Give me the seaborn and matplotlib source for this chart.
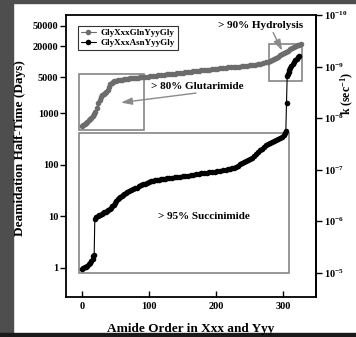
import numpy as np
import pandas as pd
import matplotlib
matplotlib.use("Agg")
import matplotlib.pyplot as plt
import seaborn as sns
from matplotlib.patches import Rectangle
from matplotlib.ticker import FixedLocator, NullLocator, FuncFormatter

# Deamidation half-times (days) of the pentapeptides, sorted by rate
gln_order = [0, 2, 4, 6, 8, 10, 12, 14, 16, 18, 20, 22, 24, 26, 28, 30, 32, 34, 36, 38,
             40, 42, 44, 46, 48, 50, 53, 56, 59, 62, 65, 68, 71, 74, 77, 80, 84, 87, 90,
             94, 98, 102, 106, 110, 114, 118, 122, 126, 130, 134, 138, 142, 146, 150, 154,
             158, 162, 166, 170, 174, 178, 182, 186, 190, 194, 198, 202, 206, 210, 214,
             218, 222, 226, 230, 234, 238, 242, 246, 250, 254, 258, 262, 266, 270, 274,
             277, 280, 283, 286, 289, 292, 295, 298, 301, 304, 307, 310, 313, 316, 319,
             322, 324, 326]
gln_days = [570, 590, 610, 640, 680, 720, 760, 810, 880, 950, 1050, 1250, 1550, 1800,
            2050, 2200, 2320, 2450, 2600, 2800, 3200, 3600, 3900, 4050, 4150, 4250, 4330,
            4400, 4470, 4530, 4600, 4650, 4700, 4750, 4800, 4850, 4900, 4950, 5000, 5060,
            5120, 5180, 5240, 5300, 5380, 5460, 5540, 5620, 5700, 5780, 5860, 5940, 6020,
            6100, 6180, 6260, 6350, 6450, 6550, 6650, 6750, 6850, 6920, 7000, 7100, 7200,
            7300, 7400, 7500, 7600, 7700, 7780, 7850, 7950, 8030, 8100, 8200, 8300, 8400,
            8550, 8700, 8900, 9150, 9400, 9700, 9900, 10100, 10600, 11200, 11800, 12400,
            13200, 14000, 14700, 15500, 16300, 17200, 18000, 18900, 19800, 20700, 21300,
            22000]

asn_order = [0, 2, 4, 6, 8, 10, 12, 14, 16, 17, 18, 19, 21, 23, 25, 27, 29, 31, 33, 35,
             37, 39, 41, 43, 45, 47, 49, 51, 53, 55, 57, 59, 61, 63, 65, 67, 70, 73, 76,
             79, 82, 85, 88, 91, 94, 97, 100, 103, 106, 109, 112, 115, 118, 121, 124, 127,
             130, 134, 138, 142, 146, 150, 154, 158, 162, 166, 170, 174, 178, 182, 186,
             190, 194, 198, 202, 206, 210, 214, 218, 221, 224, 227, 230, 233, 236, 239,
             242, 245, 248, 251, 254, 257, 260, 263, 266, 269, 272, 275, 278, 281, 284,
             287, 290, 293, 296, 299, 301, 303, 304, 305, 306, 307, 308, 309, 310, 312,
             314, 316, 318, 320, 322, 324]
asn_days = [0.94, 0.98, 1.02, 1.05, 1.1, 1.18, 1.25, 1.35, 1.5, 1.65, 1.75, 9.0, 9.5,
            10.0, 10.4, 10.7, 11.0, 11.4, 11.8, 12.2, 12.5, 13.2, 14.0, 14.7, 15.5, 16.5,
            17.8, 20.0, 21.5, 22.5, 23.5, 24.5, 26.0, 27.5, 28.5, 29.5, 31.0, 32.2, 33.3,
            34.5, 36.0, 38.0, 40.0, 41.5, 43.0, 44.5, 46.0, 47.2, 48.3, 49.5, 50.5, 51.0,
            52.0, 53.0, 53.5, 54.2, 55.0, 55.8, 56.5, 57.4, 58.2, 59.0, 60.2, 61.4, 62.6,
            63.8, 65.0, 66.2, 67.4, 68.6, 69.8, 71.0, 72.2, 73.4, 74.6, 75.8, 77.0, 79.0,
            81.0, 83.0, 85.0, 88.0, 92.0, 96.0, 102, 108, 114, 120, 125, 130, 137, 147,
            160, 175, 190, 205, 222, 240, 252, 264, 276, 288, 300, 315, 330, 348, 370, 420,
            450, 1600, 5200, 5800, 6400, 7000, 7500, 8300, 9100, 9900, 10700, 11400, 12100,
            12700]

series_labels = ["GlyXxxGlnYyyGly", "GlyXxxAsnYyyGly"]
series_colors = ["#6c6c6c", "#000000"]

left_ticks = [1, 10, 100, 1000, 5000, 20000, 50000]
x_ticks = [0, 100, 200, 300]
k_ticks = [1e-10, 1e-9, 1e-8, 1e-7, 1e-6, 1e-5]

sns.set_theme(style="ticks")
plt.rcParams["font.family"] = ["Liberation Serif", "DejaVu Serif"]
plt.rcParams["font.weight"] = "bold"
plt.rcParams["mathtext.fontset"] = "custom"
plt.rcParams["mathtext.rm"] = "Liberation Serif:bold"
plt.rcParams["mathtext.bf"] = "Liberation Serif:bold"
plt.rcParams["mathtext.it"] = "Liberation Serif:bold:italic"
for key in ["text.color", "axes.labelcolor", "xtick.color", "ytick.color", "axes.edgecolor"]:
    plt.rcParams[key] = "black"

W, H = 356, 337
fig = plt.figure(figsize=(W / 100, H / 100), dpi=100, facecolor="white")

# dark page margins around the panel
fig.patches.append(Rectangle((0, 0), 13 / W, 1, transform=fig.transFigure,
                             color="#4e4e4e", zorder=-5))
fig.patches.append(Rectangle((0, 1 - 3 / H), 1, 3 / H, transform=fig.transFigure,
                             color="#4e4e4e", zorder=-5))
fig.patches.append(Rectangle((0, 0), 1, 4 / H, transform=fig.transFigure,
                             color="#1a1a1a", zorder=-5))

ax = fig.add_axes([66 / W, 1 - 297 / H, 250 / W, 282 / H])
ax.set_yscale("log")

gln = pd.DataFrame({"order": gln_order, "days": gln_days})
asn = pd.DataFrame({"order": asn_order, "days": asn_days})
for df, lab, col in zip([gln, asn], series_labels, series_colors):
    sns.lineplot(data=df, x="order", y="days", ax=ax, color=col, marker="o",
                 markersize=4.0, markeredgecolor=col, markeredgewidth=0,
                 linewidth=0.8, estimator=None, label=lab, zorder=3)

ax.set_xlim(-24, 349)
ax.set_ylim(0.27, np.log(2) / (86400 * 1e-10))

ax.xaxis.set_major_locator(FixedLocator(x_ticks))
ax.yaxis.set_major_locator(FixedLocator(left_ticks))
ax.yaxis.set_minor_locator(NullLocator())
ax.yaxis.set_major_formatter(FuncFormatter(lambda v, p: "%d" % v))
ax.tick_params(axis="x", direction="in", length=4, width=1, labelsize=7.5, pad=3.5)
ax.tick_params(axis="y", direction="out", length=4, width=1, labelsize=7.5, pad=1.5)
ax.set_xlabel("")
ax.set_ylabel("")
for s in ax.spines.values():
    s.set_linewidth(1.3)
    s.set_color("black")


def days_to_rate(t):
    with np.errstate(divide="ignore", invalid="ignore"):
        return np.log(2) / (np.asarray(t, dtype=float) * 86400)


sec = ax.secondary_yaxis("right", functions=(days_to_rate, days_to_rate))
sec.yaxis.set_major_locator(FixedLocator(k_ticks))
sec.yaxis.set_minor_locator(NullLocator())
sec.yaxis.set_major_formatter(
    FuncFormatter(lambda v, p: r"$\mathbf{10^{%d}}$" % int(round(np.log10(v)))))
sec.tick_params(axis="y", direction="out", length=4, width=1, labelsize=7.5, pad=2)
sec.spines["right"].set_linewidth(1.3)

# regions of the dominant mechanism
box_kw = dict(fill=False, edgecolor="#858585", linewidth=1.2, zorder=2)
ax.add_patch(Rectangle((-5, 475), 97, 5800 - 475, **box_kw))
ax.add_patch(Rectangle((-5, 0.8), 314, 420 - 0.8, **box_kw))
ax.add_patch(Rectangle((278.6, 4240), 50.2, 22400 - 4240, **box_kw))

txt_kw = dict(ha="center", va="center", fontsize=8, fontweight="bold")
ax.text(266, 50000, "> 90% Hydrolysis", **txt_kw)
ax.text(172, 3250, "> 80% Glutarimide", **txt_kw)
ax.text(181, 9.9, "> 95% Succinimide", **txt_kw)

arrow_kw = dict(arrowstyle="-|>,head_length=0.55,head_width=0.18", color="#8a8a8a",
                lw=1.0, shrinkA=0, shrinkB=0)
ax.annotate("", xy=(298.5, 16300), xytext=(285, 36500), arrowprops=arrow_kw)
ax.annotate("", xy=(58, 1600), xytext=(170, 2450), arrowprops=arrow_kw)

handles, labels = ax.get_legend_handles_labels()
leg = ax.legend(handles, labels, loc="upper left", bbox_to_anchor=(0.048, 0.962),
                borderaxespad=0, fontsize=6.5, frameon=True, fancybox=False,
                edgecolor="black", handlelength=1.6, handletextpad=0.5,
                borderpad=0.35, labelspacing=0.15)
leg.get_frame().set_linewidth(0.8)

fig.text(191 / W, 1 - 329 / H, "Amide Order in Xxx and Yyy", ha="center", va="center",
         fontsize=9.5, fontweight="bold")
fig.text(20 / W, 1 - 148 / H, "Deamidation Half-Time (Days)", ha="center", va="center",
         rotation=90, fontsize=9.5, fontweight="bold")
fig.text(347 / W, 1 - 93 / H, r"k (sec$^{-1}$)", ha="center", va="center",
         rotation=90, fontsize=8.5, fontweight="bold")

fig.savefig("out.png", dpi=100, facecolor="white")
